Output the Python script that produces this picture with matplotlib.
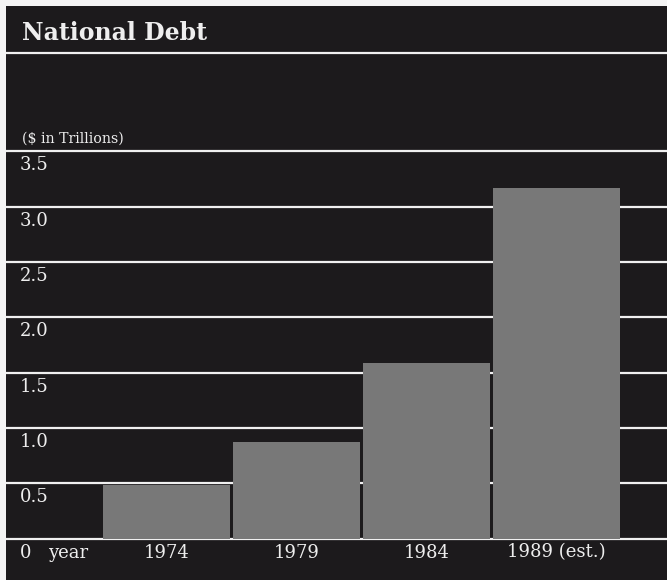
import matplotlib
matplotlib.use("Agg")
import matplotlib.pyplot as plt

# values ($ trillions)
years = ["1974", "1979", "1984", "1989 (est.)"]
debt = [0.48, 0.87, 1.59, 3.17]
ticks = [0, 0.5, 1.0, 1.5, 2.0, 2.5, 3.0, 3.5]
tick_labels = ["0", "0.5", "1.0", "1.5", "2.0", "2.5", "3.0", "3.5"]

bg = "#1c1a1c"
bar_color = "#787878"
line_color = "#f0f0f0"
text_color = "#eeeeee"

plt.rcParams["font.family"] = ["DejaVu Serif"]

fig = plt.figure(figsize=(6.67, 5.8), dpi=100, facecolor="#f4f4f4")
ax = fig.add_axes([6 / 667, 0, 661 / 667, 574 / 580])
ax.set_facecolor(bg)
ax.set_xlim(-1.235, 3.85)
ax.set_ylim(-0.375, 4.815)
for s in ax.spines.values():
    s.set_visible(False)
ax.set_xticks([])
ax.set_yticks([])

# white rules at each tick, plus the one under the title
for t in ticks:
    ax.axhline(t, color=line_color, lw=1.6, zorder=1)
ax.axhline(4.39, color=line_color, lw=1.6, zorder=1)

x = list(range(len(years)))
ax.bar(x, debt, width=0.97, color=bar_color, zorder=2)

# y labels sit just under their rules
for t, lab in zip(ticks, tick_labels):
    ax.text((20 - 6) / 661, t - 0.045, lab, transform=ax.get_yaxis_transform(),
            ha="left", va="top", fontsize=13, color=text_color)

ax.text((48 - 6) / 661, -0.045, "year", transform=ax.get_yaxis_transform(),
        ha="left", va="top", fontsize=13, color=text_color)
for xi, lab in zip(x, years):
    ax.text(xi, -0.045, lab, ha="center", va="top", fontsize=13, color=text_color)

fig.text(22 / 667, 1 - 40 / 580, "National Debt", fontsize=17, fontweight="bold",
         color=text_color, ha="left", va="baseline")
fig.text(22 / 667, 1 - 143 / 580, "($ in Trillions)", fontsize=10.2, color=text_color,
         ha="left", va="baseline")

fig.savefig("out.png", dpi=100, facecolor=fig.get_facecolor())
